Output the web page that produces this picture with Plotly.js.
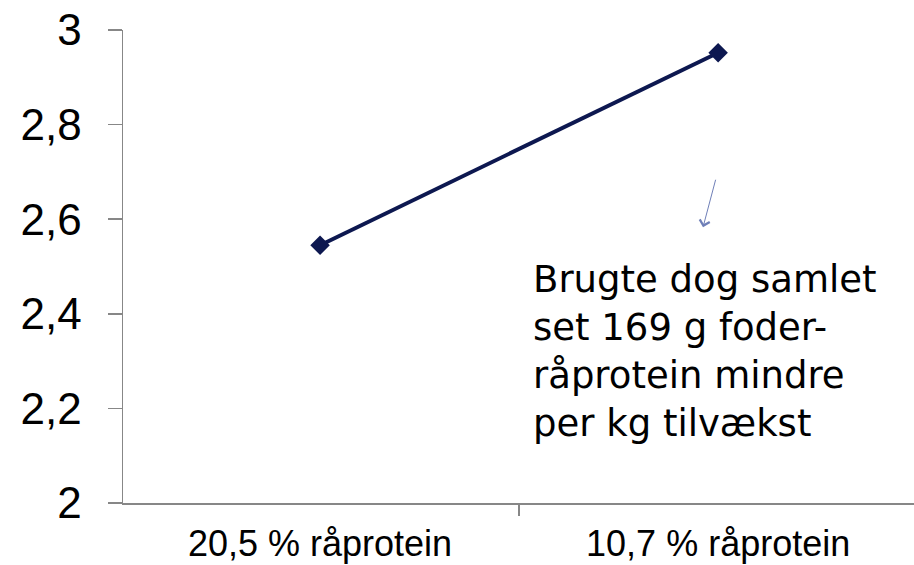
<!DOCTYPE html>
<html><head><meta charset="utf-8">
<script src="https://cdn.plot.ly/plotly-3.0.1.min.js"></script>
<style>html,body{margin:0;padding:0;background:#fff}#c{width:914px;height:565px}</style>
</head><body><div id="c"></div>
<script>
const categories = ["20,5 % råprotein", "10,7 % råprotein"];
const values = [2.545, 2.952];
const yTicks = [2, 2.2, 2.4, 2.6, 2.8, 3];
const noteText = "Brugte dog samlet<br>set 169 g foder-<br>råprotein mindre<br>per kg tilvækst";

const trace = {
  x: categories, y: values, type: "scatter", mode: "lines+markers",
  line: {color: "#0d1850", width: 4},
  marker: {symbol: "diamond", size: 15, color: "#0d1850"},
  hoverinfo: "skip", showlegend: false, cliponaxis: false
};
const layout = {
  width: 914, height: 565,
  margin: {l: 123, r: 0, t: 30, b: 62},
  separators: ", ",
  paper_bgcolor: "#fff", plot_bgcolor: "#fff",
  font: {family: "Liberation Sans", color: "#000"},
  xaxis: {
    type: "category", range: [-0.495, 1.492], tickson: "boundaries",
    showgrid: false, zeroline: false, showline: true, linecolor: "#878787", linewidth: 1.5,
    ticks: "outside", ticklen: 11, tickcolor: "#878787", tickwidth: 1.5,
    tickfont: {family: "Liberation Sans", size: 36}, ticklabelstandoff: 8, fixedrange: true
  },
  yaxis: {
    range: [2, 3], tickmode: "array", tickvals: yTicks,
    showgrid: false, zeroline: false, showline: true, linecolor: "#878787", linewidth: 1.5,
    ticks: "outside", ticklen: 14, tickcolor: "#878787", tickwidth: 1.5,
    tickfont: {family: "Liberation Sans", size: 44}, ticklabelstandoff: 17, fixedrange: true
  },
  annotations: [
    {xref: "paper", yref: "paper", x: 0.516, y: 0.522, xanchor: "left", yanchor: "top",
     align: "left", showarrow: false, text: noteText,
     font: {family: "DejaVu Sans", size: 37, color: "#000"}},
    {xref: "x", yref: "y", x: 0.962, y: 2.583, text: "", showarrow: true,
     axref: "pixel", ayref: "pixel", ax: 13, ay: -49,
     arrowhead: 4, arrowsize: 2, arrowwidth: 1, arrowcolor: "#6f7fb8"}
  ]
};
Plotly.newPlot("c", [trace], layout, {displayModeBar: false, staticPlot: true});
</script></body></html>
